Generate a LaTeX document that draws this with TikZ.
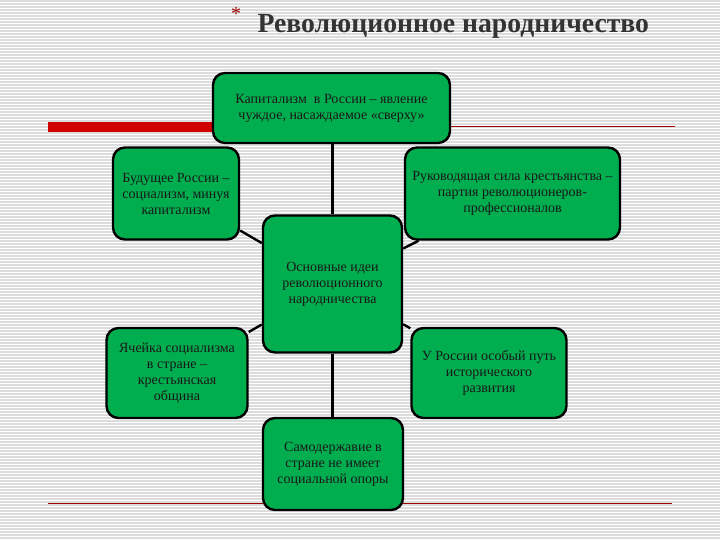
\documentclass[tikz,border=0pt]{standalone}
\usepackage{fontspec}
\setmainfont{Liberation Serif}
\definecolor{boxgreen}{HTML}{00AD4F}
\definecolor{stripe}{HTML}{DCDCDC}
\definecolor{titlegray}{HTML}{333333}
\definecolor{redline}{HTML}{D00000}
\begin{document}
\begin{tikzpicture}[x=1pt,y=-1pt,
  idea/.style={draw=black,line width=2.4pt,fill=boxgreen,rounded corners=12pt,
    align=center,inner sep=1pt,font=\fontsize{14}{16}\selectfont,text=black!90},
  link/.style={draw=black,line width=2.4pt}]
\useasboundingbox (0,0) rectangle (720,540);
\fill[white] (0,0) rectangle (720,540);
\foreach \y in {1,4,...,540} \draw[stripe,line width=1.1pt] (0,\y) -- (720,\y);
% decorative lines
\fill[redline] (48,122) rectangle (214,132);
\draw[redline!75!black,line width=0.8pt] (450,126) -- (675,126);
\draw[redline!75!black,line width=0.8pt] (48,503) -- (672,503);
% title
\node[font=\fontsize{20}{20}\selectfont,text=red!60!black] (star) at (236,14) {*};
\node[anchor=base west,font=\bfseries\fontsize{27.7}{27.7}\selectfont,text=titlegray] (title) at (254,33) {Революционное народничество};
% boxes
\node[idea,minimum width=237pt,minimum height=70pt] (top) at (331.5,108) {Капитализм \ в России – явление\\чуждое, насаждаемое «сверху»};
\node[idea,minimum width=126pt,minimum height=92pt] (lu) at (176,193.5) {Будущее России –\\социализм, минуя\\капитализм};
\node[idea,minimum width=215pt,minimum height=92pt] (ru) at (512.5,193.5) {Руководящая сила крестьянства –\\партия революционеров-\\профессионалов};
\node[idea,minimum width=139pt,minimum height=137pt] (center) at (332.5,284) {Основные идеи\\революционного\\народничества};
\node[idea,minimum width=141pt,minimum height=90pt] (ll) at (177,373) {Ячейка социализма\\в стране –\\крестьянская\\община};
\node[idea,minimum width=155pt,minimum height=90pt] (rl) at (489,373) {У России особый путь\\исторического\\развития};
\node[idea,minimum width=140pt,minimum height=92pt] (bot) at (333,464) {Самодержавие в\\стране не имеет\\социальной опоры};
% connectors
\draw[link] (top.south -| center.north) -- (center.north);
\draw[link] (center) -- (lu);
\draw[link] (center) -- (ru);
\draw[link] (center) -- (ll);
\draw[link] (center) -- (rl);
\draw[link] (center.south) -- (bot.north -| center.south);
\end{tikzpicture}
\end{document}
